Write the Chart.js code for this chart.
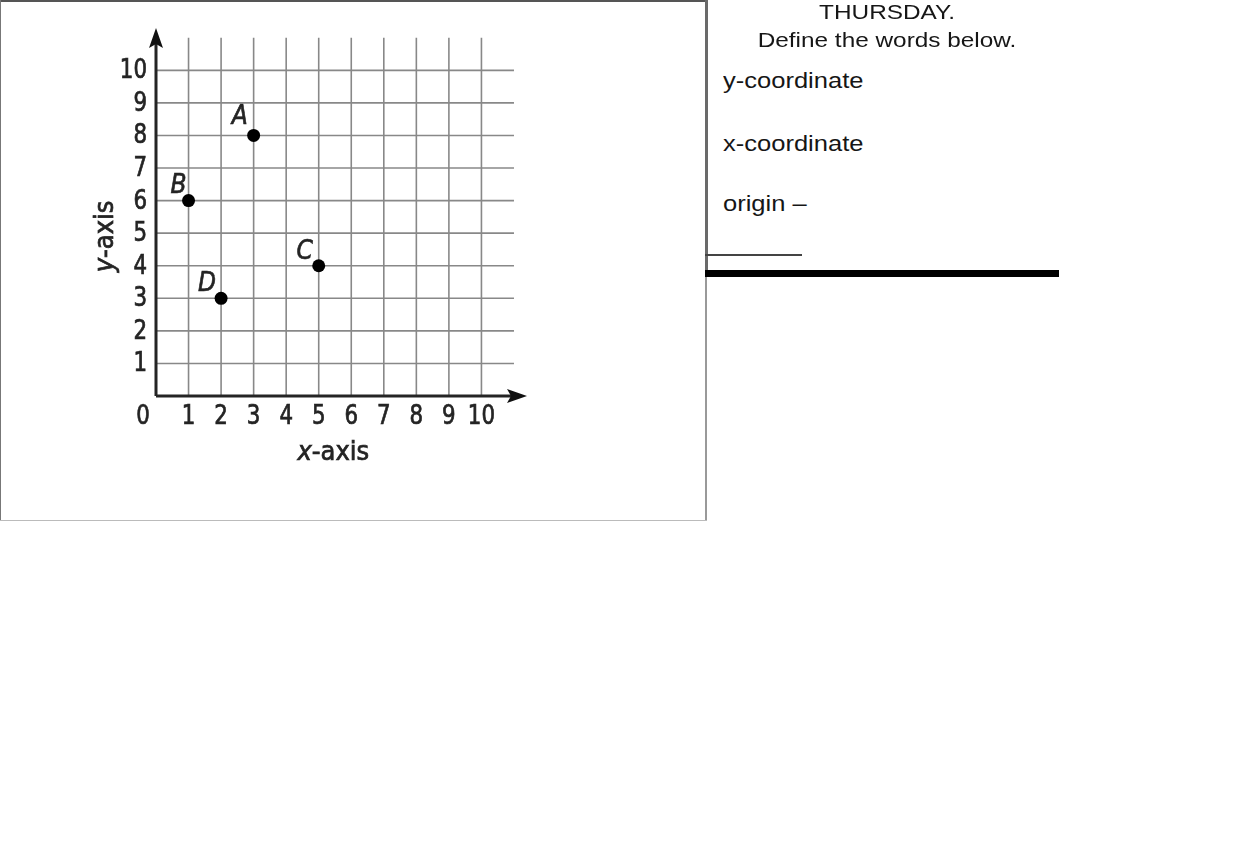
<!DOCTYPE html>
<html>
<head>
<meta charset="utf-8">
<script src="https://cdn.jsdelivr.net/npm/chart.js@4"></script>
<style>
  html, body { margin: 0; padding: 0; background: #fff; }
  body { width: 1249px; height: 849px; position: relative; overflow: hidden; font-family: "Liberation Sans", Arial, sans-serif; }
  #box { position: absolute; left: 0; top: 0; width: 707px; height: 520px; }
  #box canvas { position: absolute; left: 0; top: 0; }
  .edge { position: absolute; }
  .txt { position: absolute; color: #161616; white-space: nowrap; transform-origin: left center; transform: scaleX(1.16); }
  .head { left: 687px; width: 400px; text-align: center; font-size: 21px; line-height: 24px; transform-origin: center center; }
  .word { left: 723px; font-size: 22px; line-height: 26px; }
</style>
</head>
<body>

<div id="box"><canvas id="grid" width="707" height="520"></canvas></div>

<!-- frame round the picture -->
<div class="edge" style="left:0;top:0;width:707px;height:2px;background:#555"></div>
<div class="edge" style="left:0;top:0;width:1px;height:520px;background:#777"></div>
<div class="edge" style="left:0;top:520px;width:707px;height:1px;background:#bbb"></div>
<div class="edge" style="left:705px;top:0;width:3px;height:272px;background:#6a6a6a"></div>
<div class="edge" style="left:705px;top:272px;width:2px;height:248px;background:#999"></div>

<!-- worksheet panel on the right -->
<div class="txt head" style="top:0px">THURSDAY.</div>
<div class="txt head" style="top:28px">Define the words below.</div>
<div class="txt word" style="top:68px">y-coordinate</div>
<div class="txt word" style="top:131px">x-coordinate</div>
<div class="txt word" style="top:191px">origin –</div>
<div class="edge" style="left:705px;top:254px;width:97px;height:2px;background:#444"></div>
<div class="edge" style="left:705px;top:270px;width:354px;height:7px;background:#000"></div>

<script>
// ---- data ----
const POINT_NAMES = ["A", "B", "C", "D"];
const POINT_X     = [3, 1, 5, 2];
const POINT_Y     = [8, 6, 4, 3];
const X_TICKS     = ["0", "1", "2", "3", "4", "5", "6", "7", "8", "9", "10"];
const Y_TICKS     = ["1", "2", "3", "4", "5", "6", "7", "8", "9", "10"];
const GRID_LINES  = [1, 2, 3, 4, 5, 6, 7, 8, 9, 10];
const GRID_END    = 11;      // grid lines stop one unit past 10
const AXIS_MAX_X  = 11.4;    // arrow tips
const AXIS_MAX_Y  = 11.3;

const NUM_FONT = '27px "DejaVu Sans Condensed", "Liberation Sans Narrow", sans-serif';
const NARROW = 0.88;         // the printed digits are a bit narrower than the font
const INK = "#242424";

// where each letter sits relative to its dot (px)
const nameOffset = { A: [-14, -18], B: [-10, -14], C: [-14, -13], D: [-14, -14] };

// text a touch heavier than the font: fill plus a thin stroke
function heavyText(ctx, s, x, y) {
  ctx.fillText(s, x, y);
  ctx.strokeText(s, x, y);
}

// draw text squeezed horizontally round its anchor
function narrowText(ctx, s, x, y) {
  ctx.save();
  ctx.translate(x, y);
  ctx.scale(NARROW, 1);
  heavyText(ctx, s, 0, 0);
  ctx.restore();
}

// grid, axes, arrows and all the labels, drawn from the scales
const gridPlugin = {
  id: "coordGrid",
  beforeDatasetsDraw(chart) {
    const { ctx, scales } = chart;
    const xs = scales.x, ys = scales.y;
    const x0 = xs.getPixelForValue(0), y0 = ys.getPixelForValue(0);
    ctx.save();

    // grid lines
    ctx.strokeStyle = "#888";
    ctx.lineWidth = 1.6;
    GRID_LINES.forEach(v => {
      const py = ys.getPixelForValue(v);
      ctx.beginPath(); ctx.moveTo(x0, py); ctx.lineTo(xs.getPixelForValue(GRID_END), py); ctx.stroke();
      const px = xs.getPixelForValue(v);
      ctx.beginPath(); ctx.moveTo(px, y0); ctx.lineTo(px, ys.getPixelForValue(GRID_END)); ctx.stroke();
    });

    // axes
    ctx.strokeStyle = INK;
    ctx.lineWidth = 3;
    const xTip = xs.getPixelForValue(AXIS_MAX_X), yTip = ys.getPixelForValue(AXIS_MAX_Y);
    ctx.beginPath(); ctx.moveTo(x0, y0); ctx.lineTo(xTip - 10, y0); ctx.stroke();
    ctx.beginPath(); ctx.moveTo(x0, y0); ctx.lineTo(x0, yTip + 10); ctx.stroke();
    ctx.fillStyle = "#111";
    ctx.beginPath(); ctx.moveTo(xTip, y0); ctx.lineTo(xTip - 20, y0 - 7); ctx.lineTo(xTip - 16, y0); ctx.lineTo(xTip - 20, y0 + 7); ctx.closePath(); ctx.fill();
    ctx.beginPath(); ctx.moveTo(x0, yTip); ctx.lineTo(x0 - 7, yTip + 20); ctx.lineTo(x0, yTip + 16); ctx.lineTo(x0 + 7, yTip + 20); ctx.closePath(); ctx.fill();

    // tick numbers
    ctx.fillStyle = INK;
    ctx.lineWidth = 0.7;
    ctx.font = NUM_FONT;
    ctx.textBaseline = "middle";
    ctx.textAlign = "right";
    Y_TICKS.forEach(t => narrowText(ctx, t, x0 - 9, ys.getPixelForValue(+t) + 1));
    ctx.textAlign = "center";
    X_TICKS.forEach(t => {
      const shift = t === "0" ? -13 : 0;
      narrowText(ctx, t, xs.getPixelForValue(+t) + shift, y0 + 21);
    });

    // axis titles: italic letter + plain "-axis"
    const title = (letter, cx, cy, rot) => {
      ctx.save();
      ctx.translate(cx, cy);
      ctx.rotate(rot);
      const it = 'italic ' + NUM_FONT, up = NUM_FONT;
      ctx.font = it; const w1 = ctx.measureText(letter).width;
      ctx.font = up; const w2 = ctx.measureText("-axis").width;
      const start = -(w1 + w2) / 2;
      ctx.textAlign = "left";
      ctx.font = it; heavyText(ctx, letter, start, 0);
      ctx.font = up; heavyText(ctx, "-axis", start + w1, 0);
      ctx.restore();
    };
    title("x", xs.getPixelForValue(5.45), y0 + 57, 0);
    title("y", x0 - 50, ys.getPixelForValue(4.9), -Math.PI / 2);
    ctx.restore();
  },
  afterDatasetsDraw(chart) {
    const { ctx } = chart;
    const meta = chart.getDatasetMeta(0);
    ctx.save();
    ctx.fillStyle = INK;
    ctx.strokeStyle = INK;
    ctx.lineWidth = 0.6;
    ctx.font = 'italic 26px "DejaVu Sans Condensed", "Liberation Sans Narrow", sans-serif';
    ctx.textAlign = "center";
    ctx.textBaseline = "middle";
    meta.data.forEach((pt, i) => {
      const name = POINT_NAMES[i];
      const off = nameOffset[name] || [-12, -14];
      heavyText(ctx, name, pt.x + off[0], pt.y + off[1]);
    });
    ctx.restore();
  }
};

new Chart(document.getElementById("grid"), {
  type: "scatter",
  data: {
    datasets: [{
      data: POINT_X.map((x, i) => ({ x, y: POINT_Y[i] })),
      pointRadius: 6.5,
      pointHoverRadius: 6.5,
      pointBackgroundColor: "#000",
      pointBorderWidth: 0
    }]
  },
  options: {
    responsive: false,
    animation: false,
    devicePixelRatio: 1,
    layout: { padding: { left: 156, right: 180, top: 28, bottom: 124 } },
    plugins: { legend: { display: false }, tooltip: { enabled: false } },
    scales: {
      x: { type: "linear", min: 0, max: AXIS_MAX_X, display: false },
      y: { type: "linear", min: 0, max: AXIS_MAX_Y, display: false }
    }
  },
  plugins: [gridPlugin]
});
</script>
</body>
</html>
